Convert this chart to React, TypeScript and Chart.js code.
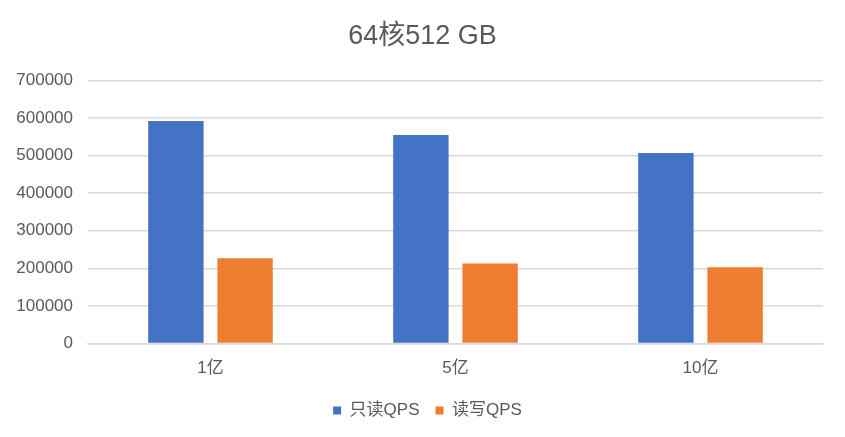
import { useRef, useEffect } from 'react'
import { Chart, registerables } from 'chart.js'

Chart.register(...registerables)

const categories = ['1亿', '5亿', '10亿']
const readOnlyQps = [592000, 555000, 507000]
const readWriteQps = [227000, 213000, 203000]
const seriesNames = ['只读QPS', '读写QPS']

const FONT = '"Liberation Sans", "Noto Sans CJK SC", sans-serif'

// centre the title on the whole canvas and nudge the legend to where Excel puts it
const placeBlocks = {
  id: 'placeBlocks',
  afterLayout(chart: any) {
    const t = chart.titleBlock
    if (t) {
      t.left = 0
      t.right = chart.width
      t.width = chart.width
    }
    const l = chart.legend
    if (l) {
      l.left = 17
      l.right = 838
    }
  },
}

export default function App() {
  const canvasRef = useRef<HTMLCanvasElement>(null)
  const chartRef = useRef<Chart | null>(null)

  useEffect(() => {
    document.body.style.margin = '0'
    if (!canvasRef.current) return
    chartRef.current?.destroy()

    chartRef.current = new Chart(canvasRef.current, {
      type: 'bar',
      data: {
        labels: categories,
        datasets: [
          { label: seriesNames[0], data: readOnlyQps, backgroundColor: '#4472c4' },
          { label: seriesNames[1], data: readWriteQps, backgroundColor: '#ed7d31' },
        ],
      },
      plugins: [placeBlocks],
      options: {
        animation: false,
        responsive: true,
        maintainAspectRatio: false,
        layout: { padding: { left: 2, right: 22, top: 12, bottom: 8 } },
        datasets: { bar: { barPercentage: 0.8, categoryPercentage: 0.565 } },
        plugins: {
          title: {
            display: true,
            text: '64核512 GB',
            color: '#595959',
            font: { family: FONT, size: 27, weight: 'normal' },
            padding: { top: 8, bottom: 28 },
          },
          legend: {
            position: 'bottom',
            labels: {
              color: '#595959',
              usePointStyle: true,
              pointStyle: 'rect',
              boxWidth: 8,
              boxHeight: 8,
              padding: 16,
              font: { family: FONT, size: 17 },
            },
          },
          tooltip: { enabled: false },
        },
        scales: {
          x: {
            grid: { display: false },
            border: { color: '#d9d9d9', width: 1.5 },
            ticks: { color: '#595959', padding: 7, font: { family: FONT, size: 17 } },
          },
          y: {
            min: 0,
            max: 700000,
            afterFit: (axis) => { axis.width = 86 },
            ticks: {
              stepSize: 100000,
              color: '#595959',
              padding: 15,
              font: { family: FONT, size: 17 },
              callback: (v) => String(v),
            },
            grid: { color: '#d9d9d9', lineWidth: 1.5, drawTicks: false },
            border: { display: false },
          },
        },
      },
    })

    return () => { chartRef.current?.destroy() }
  }, [])

  return (
    <div style={{ width: 845, height: 437, position: 'relative' }}>
      <canvas ref={canvasRef} />
    </div>
  )
}
